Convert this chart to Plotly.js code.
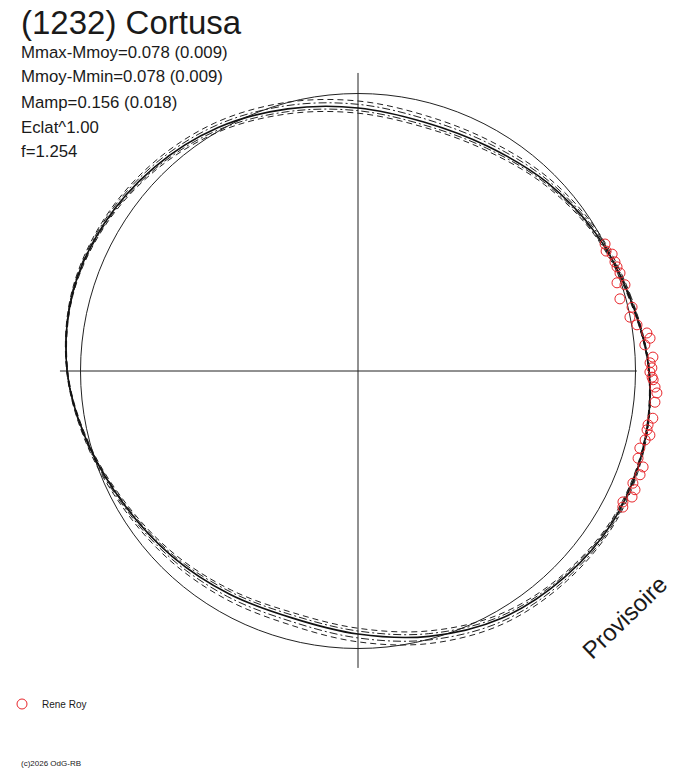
<!DOCTYPE html>
<html>
<head>
<meta charset="utf-8">
<script src="https://cdn.plot.ly/plotly-3.0.1.min.js"></script>
<style>html,body{margin:0;padding:0;background:#fff;}#chart{width:688px;height:768px;}</style>
</head>
<body>
<div id="chart"></div>
<script>
// Angles (deg) of the fitted curves
const curveTheta = [0,15,30,45,60,75,90,105,120,135,150,165,180,195,210,225,240,255,270,285,300,315,330,345];
// Main fit (solid) relative radius
const fitR = [1.049,1.015,0.990,0.962,0.935,0.928,0.948,0.978,1.012,1.038,1.058,1.066,1.048,1.008,0.970,0.946,0.928,0.921,0.948,0.990,1.030,1.052,1.067,1.065];
// Dashed envelope curves
const dashOuterR = [1.051,1.020,1.000,0.978,0.956,0.952,0.973,1.002,1.032,1.053,1.067,1.070,1.050,1.013,0.980,0.962,0.950,0.947,0.976,1.016,1.051,1.067,1.076,1.069];
const dashInnerR = [1.047,1.011,0.983,0.950,0.919,0.910,0.929,0.960,0.997,1.027,1.051,1.063,1.046,1.004,0.962,0.934,0.912,0.902,0.927,0.970,1.014,1.041,1.060,1.062];
// Dash-dot envelope curves
const dotOuterR = [1.050,1.018,0.995,0.970,0.946,0.940,0.961,0.990,1.022,1.046,1.063,1.068,1.049,1.011,0.975,0.954,0.939,0.934,0.962,1.003,1.041,1.060,1.072,1.067];
const dotInnerR = [1.048,1.013,0.986,0.956,0.927,0.918,0.938,0.968,1.004,1.032,1.054,1.064,1.047,1.006,0.966,0.940,0.919,0.911,0.937,0.980,1.022,1.046,1.063,1.063];
// Observations (Rene Roy): angle (deg) and relative radius
const obsTheta = [27.2,25.8,24.7,23.0,21.9,20.5,18.8,17.9,15.4,13.1,11.2,9.4,7.5,6.4,5.2,2.7,1.6,0.6,358.8,359.8,358.3,356.9,355.8,354.0,352.1,350.9,349.5,348.5,347.6,346.5,344.7,342.7,341.4,339.8,337.8,336.8,335.3,333.7,332.8];
const obsR = [1.001,0.993,1.008,1.006,1.006,1.008,0.986,1.011,0.979,1.014,0.999,1.019,1.050,1.059,1.038,1.064,1.053,1.059,1.060,1.052,1.064,1.072,1.080,1.076,1.106,1.076,1.063,1.063,1.077,1.064,1.053,1.057,1.084,1.083,1.070,1.086,1.087,1.065,1.073];
// Reference circle radius and cross-hair arm lengths
const refR = 1.0;
const crossTheta = [180, 0, 90, 270];
const crossR = [1.074, 1.005, 1.074, 1.070];
// Texts
const titleText = "(1232) Cortusa";
const infoLines = ["Mmax-Mmoy=0.078 (0.009)","Mmoy-Mmin=0.078 (0.009)","Mamp=0.156 (0.018)","Eclat^1.00","f=1.254"];
const observer = "Rene Roy";
const stampText = "Provisoire";
const copyText = "(c)2026 OdG-RB";

function closed(a){ return a.concat([a[0]]); }
const thClosed = closed(curveTheta);

const circTheta = [], circR = [];
for (let a = 0; a <= 360; a += 3) { circTheta.push(a); circR.push(refR); }

const W = 688, H = 768;
const cx = 358, cy = 371, unitPx = 277.5, rMax = 1.1;
const half = unitPx * rMax;

const lineBase = {mode:'lines', hoverinfo:'skip', showlegend:false};
const traces = [
  Object.assign({type:'scatterpolar', r:[crossR[0],0,crossR[1]], theta:[crossTheta[0],0,crossTheta[1]], line:{color:'#222',width:1}}, lineBase),
  Object.assign({type:'scatterpolar', r:[crossR[2],0,crossR[3]], theta:[crossTheta[2],0,crossTheta[3]], line:{color:'#222',width:1}}, lineBase),
  Object.assign({type:'scatterpolar', r:circR, theta:circTheta, line:{color:'#222',width:1}}, lineBase),
  Object.assign({type:'scatterpolar', r:closed(dashOuterR), theta:thClosed, line:{color:'#222',width:1,dash:'6px,4px',shape:'spline'}}, lineBase),
  Object.assign({type:'scatterpolar', r:closed(dashInnerR), theta:thClosed, line:{color:'#222',width:1,dash:'6px,4px',shape:'spline'}}, lineBase),
  Object.assign({type:'scatterpolar', r:closed(dotOuterR), theta:thClosed, line:{color:'#222',width:1,dash:'8px,3px,2px,3px',shape:'spline'}}, lineBase),
  Object.assign({type:'scatterpolar', r:closed(dotInnerR), theta:thClosed, line:{color:'#222',width:1,dash:'8px,3px,2px,3px',shape:'spline'}}, lineBase),
  Object.assign({type:'scatterpolar', r:closed(fitR), theta:thClosed, line:{color:'#111',width:1.6,shape:'spline'}}, lineBase),
  {type:'scatterpolar', mode:'markers', name:observer, r:obsR, theta:obsTheta,
   marker:{symbol:'circle-open', size:10, color:'#e8262b', line:{width:1}}, hoverinfo:'skip', showlegend:true}
];

const font = "Liberation Sans, Arial, sans-serif";
const ann = [];
function px(x){ return x / W; }
function py(y){ return 1 - y / H; }
ann.push({text:titleText, x:px(19), y:py(22), xref:'paper', yref:'paper', xanchor:'left', yanchor:'middle', showarrow:false, font:{family:font, size:33, color:'#1a1a1a'}});
infoLines.forEach((t,i)=>{
  ann.push({text:t, x:px(19), y:py(52 + 25*i), xref:'paper', yref:'paper', xanchor:'left', yanchor:'middle', showarrow:false, font:{family:font, size:16.8, color:'#1a1a1a'}});
});
ann.push({text:stampText, x:px(624), y:py(617), xref:'paper', yref:'paper', xanchor:'center', yanchor:'middle', textangle:-44, showarrow:false, font:{family:font, size:24, color:'#1a1a1a'}});
ann.push({text:copyText, x:px(19), y:py(763), xref:'paper', yref:'paper', xanchor:'left', yanchor:'middle', showarrow:false, font:{family:font, size:8, color:'#1a1a1a'}});

const layout = {
  width:W, height:H,
  margin:{l:0,r:0,t:0,b:0,pad:0},
  paper_bgcolor:'#ffffff',
  showlegend:true,
  legend:{x:px(2), xanchor:'left', y:py(704), yanchor:'middle', bgcolor:'rgba(0,0,0,0)', font:{family:font, size:10, color:'#1a1a1a'}},
  polar:{
    domain:{x:[(cx-half)/W,(cx+half)/W], y:[1-(cy+half)/H, 1-(cy-half)/H]},
    bgcolor:'rgba(0,0,0,0)',
    hole:0,
    radialaxis:{range:[0,rMax], visible:false},
    angularaxis:{visible:false, rotation:0, direction:'counterclockwise'}
  },
  annotations:ann
};

Plotly.newPlot('chart', traces, layout, {staticPlot:true, displayModeBar:false});
</script>
</body>
</html>
